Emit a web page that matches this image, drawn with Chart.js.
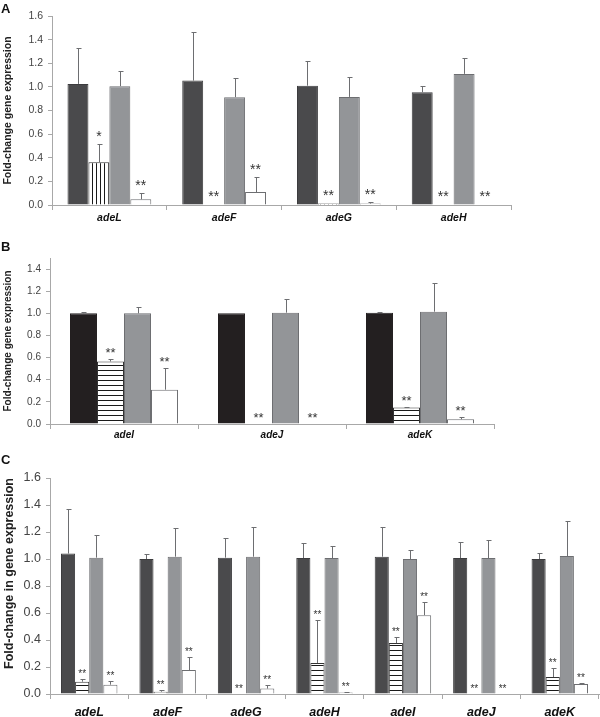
<!DOCTYPE html>
<html><head><meta charset="utf-8">
<script src="https://cdn.jsdelivr.net/npm/chart.js@4.4.0/dist/chart.umd.min.js"></script>
<style>
html,body{margin:0;padding:0;background:#fff;}
body{width:600px;height:717px;position:relative;overflow:hidden;font-family:"Liberation Sans",Arial,sans-serif;}
canvas{position:absolute;left:0;}
.letter{position:absolute;left:1px;font-weight:bold;font-size:13px;line-height:13px;color:#111;}
</style></head><body>
<canvas id="cA" width="600" height="225" style="top:0px"></canvas>
<canvas id="cB" width="600" height="220" style="top:225px"></canvas>
<canvas id="cC" width="600" height="272" style="top:445px"></canvas>
<div class="letter" style="top:2px">A</div>
<div class="letter" style="top:240px">B</div>
<div class="letter" style="top:453px">C</div>
<script>
// ---------- Panel A data ----------
const catsA = ['adeL','adeF','adeG','adeH'];
const darkA = [1.025, 1.053, 1.01, 0.955];
const darkErrA = [0.30, 0.41, 0.21, 0.05];
const stripA = [0.362, 0, 0.012, 0];
const stripErrA = [0.155, null, null, null];
const grayA = [1.006, 0.913, 0.915, 1.11];
const grayErrA = [0.127, 0.16, 0.165, 0.135];
const whiteA = [0.048, 0.11, 0.012, 0.004];
const whiteErrA = [0.05, 0.125, 0.01, null];
const stripStarsA = ['*','**','**','**'];
const whiteStarsA = ['**','**','**','**'];
const ticksA = [0,0.2,0.4,0.6,0.8,1.0,1.2,1.4,1.6];

// ---------- Panel B data ----------
const catsB = ['adeI','adeJ','adeK'];
const darkB = [1.0, 1.0, 1.006];
const darkErrB = [0.015, null, 0.008];
const stripB = [0.565, 0, 0.148];
const stripErrB = [0.018, null, 0.005];
const grayB = [1.0, 1.006, 1.015];
const grayErrB = [0.06, 0.128, 0.255];
const whiteB = [0.31, 0, 0.043];
const whiteErrB = [0.195, null, 0.018];
const stripStarsB = ['**','**','**'];
const whiteStarsB = ['**','**','**'];
const ticksB = [0,0.2,0.4,0.6,0.8,1.0,1.2,1.4];

// ---------- Panel C data ----------
const catsC = ['adeL','adeF','adeG','adeH','adeI','adeJ','adeK'];
const darkC = [1.04, 1.0, 1.01, 1.007, 1.017, 1.007, 1.0];
const darkErrC = [0.33, 0.04, 0.148, 0.11, 0.217, 0.116, 0.044];
const stripC = [0.091, 0.017, 0, 0.23, 0.377, 0, 0.126];
const stripErrC = [0.02, 0.015, null, 0.317, 0.044, null, 0.064];
const grayC = [1.01, 1.017, 1.017, 1.007, 1.0, 1.007, 1.022];
const grayErrC = [0.165, 0.21, 0.223, 0.087, 0.066, 0.131, 0.258];
const whiteC = [0.069, 0.177, 0.04, 0.012, 0.584, 0, 0.074];
const whiteErrC = [0.031, 0.096, 0.03, 0.005, 0.096, null, 0.007];
const stripStarsC = ['**','**','**','**','**','**','**'];
const whiteStarsC = ['**','**','**','**','**','**','**'];
const ticksC = [0,0.2,0.4,0.6,0.8,1.0,1.2,1.4,1.6];

const FAM = '"Liberation Sans", Arial, sans-serif';

function makePattern(kind){
  const c = document.createElement('canvas');
  const g = c.getContext('2d');
  if(kind === 'v'){
    c.width = 4; c.height = 4;
    g.fillStyle = '#fff'; g.fillRect(0,0,4,4);
    g.fillStyle = '#1a1a1a'; g.fillRect(0,0,1,4);
  } else {
    c.width = 5; c.height = 5;
    g.fillStyle = '#fff'; g.fillRect(0,0,5,5);
    g.fillStyle = '#1a1a1a'; g.fillRect(0,0,5,1);
  }
  return g.createPattern(c, 'repeat');
}

const annotPlugin = {
  id: 'annot',
  afterDatasetsDraw(chart, args, opts){
    const ctx = chart.ctx, ys = chart.scales.y;
    ctx.save();
    chart.data.datasets.forEach((ds, i) => {
      const meta = chart.getDatasetMeta(i);
      meta.data.forEach((bar, j) => {
        const v = ds.data[j];
        const e = opts.errs[i][j];
        let top = ys.getPixelForValue(v);
        const x = Math.round(bar.x) + 0.5;
        if (e != null) {
          const yt = Math.round(ys.getPixelForValue(v + e)) + 0.5;
          ctx.strokeStyle = opts.errColor;
          ctx.lineWidth = 1;
          ctx.beginPath();
          ctx.moveTo(x, top); ctx.lineTo(x, yt);
          ctx.moveTo(x - opts.cap, yt); ctx.lineTo(x + opts.cap + 1, yt);
          ctx.stroke();
          top = yt;
        }
        const s = opts.stars[i] ? opts.stars[i][j] : null;
        if (s) {
          ctx.fillStyle = '#333';
          ctx.font = opts.starSize + 'px ' + FAM;
          ctx.textAlign = 'center';
          ctx.textBaseline = 'alphabetic';
          ctx.fillText(s, bar.x, top - opts.starOff + 0.575 * opts.starSize);
        }
      });
    });
    ctx.restore();
  }
};

function makeChart(id, cats, vals, errs, stars, tickVals, cfg){
  const fills = [cfg.dark, makePattern(cfg.stripe), '#939598', '#ffffff'];
  const borders = [cfg.darkBorder, '#333', '#6d6e71', '#6d6e71'];
  new Chart(document.getElementById(id), {
    type: 'bar',
    data: {
      labels: cats,
      datasets: vals.map((d, i) => ({
        data: d, backgroundColor: fills[i], borderColor: borders[i], borderWidth: 1
      }))
    },
    options: {
      responsive: false, animation: false, events: [],
      layout: { padding: cfg.pad },
      datasets: { bar: { categoryPercentage: cfg.catPct, barPercentage: 1 } },
      plugins: {
        legend: { display: false }, tooltip: { enabled: false },
        annot: { errs: errs, stars: stars, errColor: '#6d6e71', cap: cfg.cap,
                 starSize: cfg.starSize, starOff: cfg.starOff }
      },
      scales: {
        x: {
          offset: true,
          grid: { offset: true, drawOnChartArea: false, drawTicks: true, tickLength: 5, color: '#a8a8a8' },
          border: { color: '#a8a8a8' },
          ticks: { font: { family: FAM, size: cfg.fs, weight: 'bold', style: 'italic' }, color: '#111', padding: cfg.xpad, maxRotation: 0 },
          afterFit(s){ s.height = cfg.xh; }
        },
        y: {
          min: 0, max: cfg.max,
          afterBuildTicks(s){ s.ticks = tickVals.map(v => ({ value: v })); },
          ticks: { callback: v => Number(v).toFixed(1), font: { family: FAM, size: cfg.fs }, color: '#444', padding: 5 },
          grid: { drawOnChartArea: false, tickLength: 4, color: '#a8a8a8' },
          border: { color: '#a8a8a8' },
          title: { display: true, text: cfg.title, align: cfg.titleAlign || 'center',
                   font: { family: FAM, size: cfg.fs, weight: 'bold' }, color: '#222', padding: { top: 2, bottom: 0 } },
          afterFit(s){ s.width = cfg.yw; }
        }
      }
    },
    plugins: [annotPlugin]
  });
}

makeChart('cA', catsA, [darkA, stripA, grayA, whiteA],
  [darkErrA, stripErrA, grayErrA, whiteErrA], [null, stripStarsA, null, whiteStarsA], ticksA,
  { dark: '#4a4a4c', darkBorder: '#3c3c3e', stripe: 'v', pad: { top: 16, right: 89, left: 0, bottom: 0 },
    catPct: 0.73, fs: 10.5, xpad: 2, xh: 20, yw: 52, max: 1.6, title: 'Fold-change gene expression',
    cap: 2, starSize: 14, starOff: 12 });

makeChart('cB', catsB, [darkB, stripB, grayB, whiteB],
  [darkErrB, stripErrB, grayErrB, whiteErrB], [null, stripStarsB, null, whiteStarsB], ticksB,
  { dark: '#231f20', darkBorder: '#231f20', stripe: 'h', pad: { top: 33, right: 106, left: 0, bottom: 0 },
    catPct: 0.73, fs: 10, xpad: 0, xh: 21, yw: 50, max: 1.5, title: 'Fold-change gene expression',
    cap: 2, starSize: 13, starOff: 9.5 });

makeChart('cC', catsC, [darkC, stripC, grayC, whiteC],
  [darkErrC, stripErrC, grayErrC, whiteErrC], [null, stripStarsC, null, whiteStarsC], ticksC,
  { dark: '#4a4a4c', darkBorder: '#3c3c3e', stripe: 'h', pad: { top: 33, right: 1, left: 0, bottom: 0 },
    catPct: 0.72, fs: 12.5, xpad: 6, xh: 23, yw: 50, max: 1.6, title: 'Fold-change in gene expression',
    titleAlign: 'end', cap: 2, starSize: 10, starOff: 8 });
</script>
</body></html>
